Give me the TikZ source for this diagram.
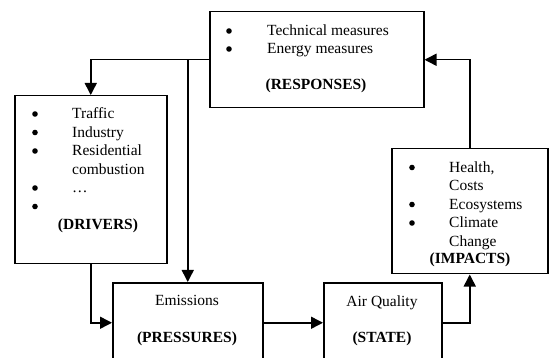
\documentclass[tikz,border=0pt]{standalone}
\usepackage{fontspec}
\setmainfont{Liberation Serif}
\usetikzlibrary{arrows.meta}
\begin{document}
\begin{tikzpicture}[x=1pt,y=-1pt,
  box/.style={draw, line width=1.5pt, inner sep=0pt, anchor=north west},
  bul/.style={circle, fill, inner sep=0pt, minimum size=5.6pt},
  txt/.style={inner sep=0pt, anchor=base west, font=\fontsize{15.5}{18.5}\selectfont},
  ctxt/.style={inner sep=0pt, anchor=base, font=\fontsize{15.5}{18.5}\selectfont},
  conn/.style={line width=1.5pt, -{Triangle[length=12pt,width=12pt]}},
]
\useasboundingbox (0,0) rectangle (549,358);
\clip (0,0) rectangle (549,358);
% boxes
\node[box, minimum width=214pt, minimum height=96pt] (resp) at (209,11) {};
\node[box, minimum width=152pt, minimum height=168pt] (drv) at (14,95) {};
\node[box, minimum width=150pt, minimum height=80pt] (pres) at (112,282) {};
\node[box, minimum width=118pt, minimum height=80pt] (state) at (323,282) {};
\node[box, minimum width=156pt, minimum height=125pt] (imp) at (391,148) {};
% responses text
\node[bul] (rb1) at (229,31) {};
\node[txt] (rt1) at (267,36) {Technical measures};
\node[bul] (rb2) at (229,49) {};
\node[txt] (rt2) at (267,54) {Energy measures};
\node[ctxt] (rl) at (316,90) {\textbf{(RESPONSES)}};
% drivers text
\node[bul] (db1) at (35,114) {};
\node[txt] (dt1) at (72,119) {Traffic};
\node[bul] (db2) at (35,132.5) {};
\node[txt] (dt2) at (72,137.5) {Industry};
\node[bul] (db3) at (35,151) {};
\node[txt] (dt3) at (72,156) {Residential};
\node[txt] (dt3b) at (72,174.5) {combustion};
\node[bul] (db4) at (35,188) {};
\node[txt] (dt4) at (72,193) {\dots};
\node[bul] (db5) at (35,206.5) {};
\node[ctxt] (dl) at (98,230) {\textbf{(DRIVERS)}};
% impacts text
\node[bul] (ib1) at (412,167.5) {};
\node[txt] (it1) at (449,172.5) {Health,};
\node[txt] (it1b) at (449,191) {Costs};
\node[bul] (ib2) at (412,204.5) {};
\node[txt] (it2) at (449,209.5) {Ecosystems};
\node[bul] (ib3) at (412,223) {};
\node[txt] (it3) at (449,228) {Climate};
\node[txt] (it3b) at (449,246.5) {Change};
\node[ctxt] (il) at (470,264) {\textbf{(IMPACTS)}};
% pressures / state text
\node[ctxt] (pt) at (187,305.5) {Emissions};
\node[ctxt] (pl) at (187,342) {\textbf{(PRESSURES)}};
\node[ctxt] (st) at (382,306) {Air Quality};
\node[ctxt] (sl) at (382,342) {\textbf{(STATE)}};
% connectors
\draw[conn] (resp.west) -| (drv.north);
\coordinate (br) at (resp.west -| pres.north);
\draw[conn] (br) -- (pres.north);
\draw[conn] (drv.south) |- (pres.west);
\draw[conn] (pres.east) -- (state.west);
\draw[conn] (state.east) -| (imp.south);
\draw[conn] (imp.north) |- (resp.east);
\end{tikzpicture}
\end{document}
